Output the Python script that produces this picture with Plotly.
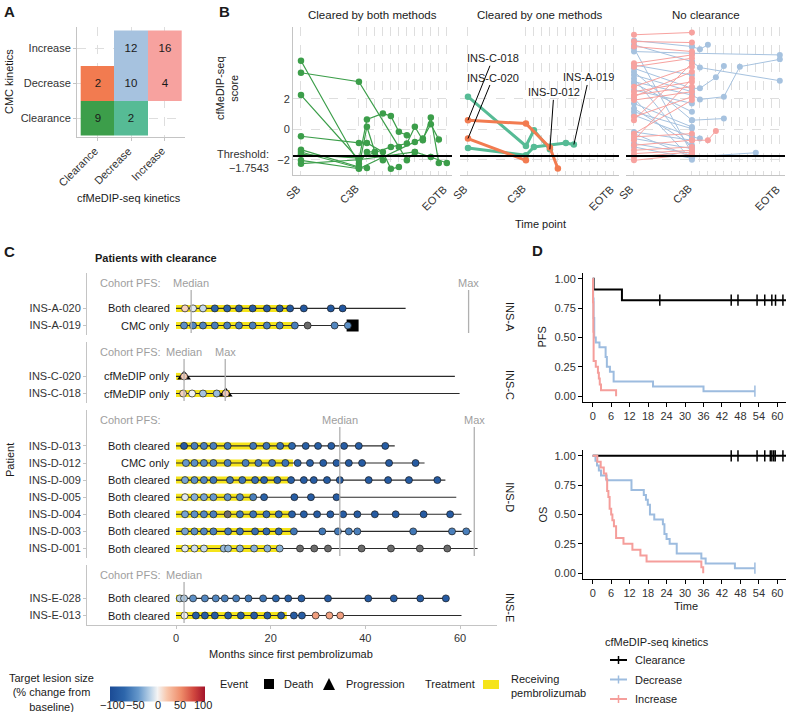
import plotly.graph_objects as go

W, H = 786, 712
FONT = "Liberation Sans, Arial, sans-serif"
TXT = "#1a1a1a"
TICK = "#333333"
GRID = "#dedede"
AXG = "#c4c4c4"
CGRAY = "#9e9e9e"


def fx(p):
    return p / W


def fy(p):
    return 1 - p / H


# ---------------- Panel A data ----------------
a_levels = ["Clearance", "Decrease", "Increase"]
a_counts = [[9, 2, None], [2, 10, 4], [None, 12, 16]]      # rows = CMC, cols = cfMeDIP-seq
a_group = [[0, 2, None], [1, 3, 4], [None, 3, 4]]
group_colors = ["#3c9e4a", "#f27b50", "#56bb95", "#a6c2df", "#f7a29f"]

# ---------------- Panel B data ----------------
visits = ["SB", "C3B", "C4B", "C5B", "C6B", "C7B", "C8B", "C9B", "C10B", "C11B", "C12B", "C13B", "EOTB"]
visit_labels = ["SB", "C3B", "", "", "", "", "", "", "", "", "", "", "EOTB"]
threshold = -1.7543
facet_titles = ["Cleared by both methods", "Cleared by one methods", "No clearance"]

both_idx = [[0, 1, 2, 3, 4], [0, 1, 6, 7, 8], [0, 1, 2, 4, 5, 6, 7], [0, 1, 2, 4, 5, 6],
            [0, 1, 2, 3], [0, 1, 2], [0, 1, 5, 7, 8, 9, 10, 11], [0, 1, 8, 9, 10, 11], [0, 1, 8, 10, 12]]
both_val = [[4.49, -2.26, -1.49, -1.49, -2.04], [3.70, 3.11, -1.16, -2.04, -1.49],
            [2.24, -2.0, 0.64, 1.03, 0.86, -0.17, -0.39], [-0.46, -0.90, -0.90, -1.49, -2.59, -2.48],
            [-1.34, -2.48, 0.16, -1.49], [-1.49, -2.54, -2.54],
            [-1.64, -1.9, -1.16, -0.94, 0.16, -0.72, 0.77, -2.21],
            [-2.04, -2.59, -0.83, -0.61, 0.33, -0.68], [-2.26, -2.0, -1.49, -1.82, -2.21]]

one_ids = ["INS-D-012", "INS-A-019", "INS-C-018", "INS-C-020"]
one_kind = ["CMC", "CMC", "cfMeDIP", "cfMeDIP"]
one_idx = [[0, 1, 2, 4], [0, 1, 2, 6, 7], [0, 1, 4, 5], [0, 1]]
one_val = [[2.13, -1.1, -0.07, -1.32], [-1.23, -1.71, -1.16, -0.9, -1.0],
           [0.59, 0.37, -1.2, -2.57], [-0.61, -2.04]]
one_label_at = [3, 4, 0, 0]          # which point the call-out label marks
one_label_off = [(4, -57), (15, -67), (25, -62), (25, -61)]

nc_pink_sb = [6.19, 5.75, 5.42, 4.32, 4.10, 2.79, 2.46, 2.24, 2.13, 1.91, 0.81, 0.59, -0.29, -0.50,
              -0.72, -1.05, -1.38, -1.60, -1.82, -2.04]
nc_pink_c3b = [6.34, 5.68, 5.09, 4.87, 4.65, 4.10, 3.11, 2.79, 3.77, 2.46, 2.13, 4.32, 1.91, -0.29,
               3.33, -0.72, -1.16, -1.38, -1.49, -1.64]
nc_blue_sb = [5.81, 5.53, 5.31, 5.09, 4.21, 3.99, 3.77, 3.55, 3.33, 3.11, 3.00, 2.57, 2.02, 1.69,
              1.36, 1.14, 0.92, -0.18, -0.29, -0.61, -0.94, -1.16]
nc_blue_c3b = [5.42, 4.43, -1.60, 4.98, 3.55, 2.68, 0.59, 2.46, -1.27, 2.24, 1.14, 1.69, -2.00, 0.15,
               -1.05, 0.04, -0.50, -0.72, -1.82, -1.27, -1.60, -1.91]
nc_blue_ext_idx = [[1, 2, 3], [1, 12], [1, 2, 12], [1, 2, 4, 5], [1, 2, 5, 7, 12], [1, 5], [1, 2], [1, 9]]
nc_blue_ext_val = [[5.42, 5.24, 5.53], [4.98, 4.87], [4.43, 4.04, 3.18], [2.68, 2.68, 3.40, 4.15],
                   [2.24, 1.95, 2.13, 4.10, 4.58], [0.59, 0.70], [-0.50, -0.61], [-1.82, -1.54]]
nc_pink_ext_idx = [[1, 3, 4]]
nc_pink_ext_val = [[-0.72, -0.72, -0.11]]

# ---------------- Panel C data ----------------
cohorts = ["INS-A", "INS-C", "INS-D", "INS-E"]
cohort_pfs_median = [3.2, 1.7, 34.6, 1.7]
cohort_pfs_max = [61.8, 10.4, 63.0, None]
c_ids = ["INS-A-020", "INS-A-019", "INS-C-020", "INS-C-018", "INS-D-013", "INS-D-012", "INS-D-009",
         "INS-D-005", "INS-D-004", "INS-D-003", "INS-D-001", "INS-E-028", "INS-E-013"]
c_cohort = ["INS-A", "INS-A", "INS-C", "INS-C", "INS-D", "INS-D", "INS-D", "INS-D", "INS-D", "INS-D",
            "INS-D", "INS-E", "INS-E"]
c_status = ["Both cleared", "CMC only", "cfMeDIP only", "cfMeDIP only", "Both cleared", "CMC only",
            "Both cleared", "Both cleared", "Both cleared", "Both cleared", "Both cleared",
            "Both cleared", "Both cleared"]
c_followup = [48.5, 37.3, 58.9, 59.9, 46.2, 52.5, 56.9, 59.2, 60.3, 62.4, 63.7, 57.4, 60.3]
c_treat_end = [23.6, 24.7, 1.0, 11.4, 24.1, 24.7, 23.7, 16.7, 23.9, 24.3, 22.3, 1.3, 23.4]
c_event = [None, "Death", "Progression", "Progression", None, None, None, None, None, None, None, None, None]
c_event_time = [None, 37.3, 1.7, 10.5, None, None, None, None, None, None, None, None, None]
c_scan_t = [
    [1.9, 3.6, 5.7, 8.2, 10.8, 13.3, 16.2, 19.2, 21.9, 24.1, 27.0, 32.7, 35.2],
    [1.7, 3.6, 5.7, 8.2, 10.8, 13.3, 16.2, 19.2, 21.9, 25.1, 27.8, 33.5, 36.3],
    [1.7],
    [1.5, 3.4, 5.7, 8.6, 10.5],
    [1.7, 3.9, 5.9, 7.9, 10.9, 16.3, 19.1, 22.0, 24.5, 27.4, 30.0, 32.8, 35.5, 38.6, 44.2],
    [2.1, 3.9, 5.9, 7.9, 10.9, 14.7, 17.4, 20.3, 23.1, 25.7, 28.3, 31.1, 33.9, 36.5, 39.3, 45.0, 50.6],
    [1.9, 3.9, 5.9, 7.9, 11.4, 14.0, 16.7, 18.6, 21.4, 24.3, 27.0, 29.1, 31.9, 34.6, 40.7, 44.8, 49.2, 55.2],
    [1.9, 3.9, 5.9, 7.9, 10.9, 13.5, 16.3, 18.6, 25.0, 28.5, 33.9],
    [1.9, 3.9, 5.9, 7.9, 10.9, 13.5, 16.3, 19.1, 21.7, 24.5, 27.0, 29.8, 32.6, 35.3, 38.3, 42.0, 46.4, 52.3, 57.9],
    [1.9, 3.9, 5.9, 7.9, 11.0, 13.5, 16.7, 19.1, 21.7, 24.9, 30.9, 34.2, 36.5, 38.3, 50.1, 58.3, 61.3],
    [1.9, 3.9, 5.9, 10.1, 11.0, 13.5, 16.5, 19.3, 21.9, 26.2, 29.2, 32.1, 39.2, 45.4, 51.5, 57.3],
    [0.8, 1.7, 3.6, 6.1, 8.4, 10.3, 12.7, 15.3, 18.4, 21.1, 23.7, 26.5, 32.1, 40.6, 46.0, 51.6, 57.0],
    [1.8, 4.2, 6.1, 8.2, 11.0, 13.7, 16.5, 19.3, 22.2, 24.9, 26.6, 29.5, 32.4, 34.7],
]
c_scan_chg = [
    [15, -5, -12, -72, -76, -80, -82, -84, -85, -86, -86, -86, -88],
    [-45, -50, -52, -55, -55, -55, -55, -55, -55, -55, None, -50, -45],
    [18],
    [15, 0, -22, -25, 18],
    [-82, -55, -55, -55, -60, -60, -62, -65, -70, -78, -78, -80, -80, -80, -80],
    [-40, -45, -48, -50, -55, -55, -58, -60, -62, -72, -78, -80, -82, -82, -82, -82, -82],
    [-35, -45, -50, -60, -60, -62, -65, -70, -75, -80, -82, -82, -82, -82, -82, -82, -82, -82],
    [-5, -30, -35, -40, -45, -50, -55, -75, -80, -82, -82],
    [-35, -45, -50, -55, None, -60, -62, -65, -68, -78, -80, -82, -82, -82, -82, -82, -82, -82, -82],
    [-35, -45, -50, -55, -60, -62, -65, -68, -68, -60, -60, -58, -55, -55, -60, -55, -55],
    [-5, -10, -12, -25, -28, -30, -30, -30, -30, None, None, None, None, None, None, None],
    [-15, -20, -45, -50, -50, -55, -55, -60, -62, -70, -78, -80, -82, -82, -82, -82, -82],
    [0, -80, -80, -82, -82, -82, -82, -82, -82, -82, -80, 40, 38, 40],
]
c_xticks = [0, 20, 40, 60]
lesion_ticks = [-100, -50, 0, 50, 100]

# ---------------- Panel D data ----------------
km_groups = ["Clearance", "Decrease", "Increase"]
km_colors = ["#000000", "#9dbcdf", "#f59e9b"]
pfs_t = [[0, 0.3, 9.5, 62.8],
         [0, 0.15, 0.3, 0.5, 1.0, 2.2, 4.2, 4.6, 5.6, 6.8, 19.6, 36.0, 52.7],
         [0, 0.1, 0.2, 0.3, 1.0, 1.7, 2.0, 2.3, 2.7, 7.6]]
pfs_s = [[1.0, 0.909, 0.818, 0.818],
         [1.0, 0.833, 0.667, 0.5, 0.458, 0.417, 0.333, 0.25, 0.208, 0.125, 0.083, 0.042, 0.042],
         [1.0, 0.8, 0.55, 0.3, 0.25, 0.2, 0.15, 0.1, 0.05, 0.0]]
pfs_cens = [[21.8, 45.0, 47.2, 53.4, 55.9, 58.2, 59.4, 61.8], [52.7], []]
os_t = [[0, 62.8],
        [0, 0.9, 1.4, 2.0, 2.7, 4.5, 12.6, 16.6, 17.3, 17.9, 18.6, 20.0, 22.8, 23.3, 24.0, 25.0, 27.3,
         35.3, 36.7, 46.2, 52.7],
        [0, 1.5, 2.6, 3.6, 4.4, 4.7, 5.1, 5.5, 6.0, 6.4, 6.9, 7.6, 10.0, 12.9, 15.5, 17.5, 35.3, 35.9]]
os_s = [[1.0, 1.0],
        [1, 0.958, 0.917, 0.875, 0.833, 0.792, 0.708, 0.667, 0.625, 0.583, 0.5, 0.458, 0.417, 0.333,
         0.292, 0.25, 0.167, 0.125, 0.083, 0.042, 0.042],
        [1, 0.95, 0.9, 0.85, 0.8, 0.7, 0.65, 0.55, 0.5, 0.45, 0.4, 0.3, 0.25, 0.2, 0.15, 0.1, 0.05, 0.0]]
os_cens = [[45.0, 47.2, 53.4, 55.9, 57.7, 58.2, 58.8, 59.3, 61.8], [52.7], []]
km_xticks = list(range(0, 61, 6))
km_yticks = [0, 0.25, 0.5, 0.75, 1.0]

lesion_scale = [[0.0, "#1b4b95"], [0.15, "#2d66ab"], [0.3, "#6698cb"], [0.42, "#b8d1e7"],
                [0.5, "#f4f4f4"], [0.6, "#f8c6ab"], [0.75, "#ee8b69"], [0.88, "#d1483f"], [1.0, "#a3142b"]]

fig = go.Figure()
annotations = []
shapes = []


def ann(text, x, y, size=11, color=TXT, xanchor="center", yanchor="middle", bold=False, angle=0, align="center"):
    annotations.append(dict(text=f"<b>{text}</b>" if bold else text, x=fx(x), y=fy(y), xref="paper",
                            yref="paper", showarrow=False, xanchor=xanchor, yanchor=yanchor,
                            textangle=angle, align=align, font=dict(size=size, color=color, family=FONT)))


def rot_label(text, x, xref, ypx):
    annotations.append(dict(text=text, x=x, y=fy(ypx), xref=xref, yref="paper", showarrow=False,
                            xanchor="right", yanchor="top", textangle=-45, xshift=5,
                            font=dict(size=11, color=TICK, family=FONT)))


# ================= Panel A =================
cs = []
for i, c in enumerate(group_colors):
    cs += [[i / 5, c], [(i + 1) / 5, c]]
fig.add_trace(go.Heatmap(
    x=a_levels, y=a_levels, z=a_group,
    text=[["" if v is None else str(v) for v in row] for row in a_counts],
    texttemplate="%{text}", textfont=dict(size=11.5, color=TXT, family=FONT),
    colorscale=cs, zmin=-0.5, zmax=4.5, showscale=False, hoverinfo="skip", xaxis="x", yaxis="y"))

axes = {}
axes["xaxis"] = dict(domain=[fx(77), fx(185)], range=[-0.61, 2.6], type="category", anchor="y",
                     showgrid=True, gridcolor=GRID, griddash="dash", showline=True, linecolor=AXG,
                     ticks="outside", ticklen=3, tickcolor=AXG, showticklabels=False, zeroline=False)
axes["yaxis"] = dict(domain=[fy(137), fy(27)], range=[-0.54, 2.6], type="category", anchor="x",
                     showgrid=True, gridcolor=GRID, griddash="dash", showline=True, linecolor=AXG,
                     ticks="outside", ticklen=3, tickcolor=AXG, zeroline=False,
                     tickfont=dict(size=11, color=TICK))
for i, lv in enumerate(a_levels):
    rot_label(lv, i, "x", 142)
ann("A", 9, 11, size=15, bold=True)
ann("CMC kinetics", 9, 82, angle=-90)
ann("cfMeDIP-seq kinetics", 129, 198)

# ================= Panel B =================
visit_x = [0.0] + [7.25 + k for k in range(len(visits) - 1)]
b_dom = [(293, 452), (460, 619), (626, 785)]
green, orange, teal = group_colors[0], group_colors[1], group_colors[2]
blue_l, pink_l = group_colors[3], group_colors[4]


def bx(idx):
    return [visit_x[i] for i in idx]


for idx, vals in zip(both_idx, both_val):
    fig.add_trace(go.Scatter(x=bx(idx), y=vals, mode="lines+markers", xaxis="x2", yaxis="y2",
                             line=dict(color=green, width=1.2), marker=dict(size=6.5, color=green),
                             hoverinfo="skip", showlegend=False))

for kind in ["CMC", "cfMeDIP"]:
    for pid, k, idx, vals in zip(one_ids, one_kind, one_idx, one_val):
        if k != kind:
            continue
        col = teal if k == "CMC" else orange
        fig.add_trace(go.Scatter(x=bx(idx), y=vals, mode="lines+markers", xaxis="x3", yaxis="y3",
                                 line=dict(color=col, width=3), marker=dict(size=6.5, color=col),
                                 hoverinfo="skip", showlegend=False))

for s, c in zip(nc_blue_sb, nc_blue_c3b):
    fig.add_trace(go.Scatter(x=bx([0, 1]), y=[s, c], mode="lines+markers", xaxis="x4", yaxis="y4",
                             line=dict(color=blue_l, width=1), marker=dict(size=6, color=blue_l),
                             hoverinfo="skip", showlegend=False))
for idx, vals in zip(nc_blue_ext_idx, nc_blue_ext_val):
    fig.add_trace(go.Scatter(x=bx(idx), y=vals, mode="lines+markers", xaxis="x4", yaxis="y4",
                             line=dict(color=blue_l, width=1), marker=dict(size=6, color=blue_l),
                             hoverinfo="skip", showlegend=False))
for s, c in zip(nc_pink_sb, nc_pink_c3b):
    fig.add_trace(go.Scatter(x=bx([0, 1]), y=[s, c], mode="lines+markers", xaxis="x4", yaxis="y4",
                             line=dict(color=pink_l, width=1), marker=dict(size=6, color=pink_l),
                             hoverinfo="skip", showlegend=False))
for idx, vals in zip(nc_pink_ext_idx, nc_pink_ext_val):
    fig.add_trace(go.Scatter(x=bx(idx), y=vals, mode="lines+markers", xaxis="x4", yaxis="y4",
                             line=dict(color=pink_l, width=1), marker=dict(size=6, color=pink_l),
                             hoverinfo="skip", showlegend=False))

for i, (x0, x1) in enumerate(b_dom):
    n = i + 2
    axes[f"xaxis{n}"] = dict(domain=[fx(x0), fx(x1)], range=[-1, 18.9], anchor=f"y{n}",
                             tickvals=visit_x, showticklabels=False,
                             showgrid=True, gridcolor=GRID, griddash="dash", showline=True,
                             linecolor=AXG, zeroline=False, ticks="")
    axes[f"yaxis{n}"] = dict(domain=[fy(175), fy(27)], range=[-3.0, 6.7], anchor=f"x{n}",
                             tickvals=[-2, 0, 2], ticktext=["\u22122", "0", "2"],
                             showgrid=True, gridcolor=GRID, griddash="dash", zeroline=False,
                             showline=(i == 0), linecolor=AXG, showticklabels=(i == 0),
                             ticks="", tickfont=dict(size=11, color=TICK))
    shapes.append(dict(type="line", xref=f"x{n} domain", x0=0, x1=1, yref=f"y{n}", y0=threshold,
                       y1=threshold, line=dict(color="black", width=2)))
    ann(facet_titles[i], (x0 + x1) / 2, 15, size=11.5)
    for vx, vl in zip(visit_x, visit_labels):
        if vl:
            rot_label(vl, vx, f"x{n}", 180)

for pid, idx, vals, li, off in zip(one_ids, one_idx, one_val, one_label_at, one_label_off):
    annotations.append(dict(text=pid, x=visit_x[idx[li]], y=vals[li], xref="x3", yref="y3",
                            showarrow=True, arrowhead=0, arrowwidth=1, arrowcolor="black",
                            ax=off[0], ay=off[1], standoff=0,
                            font=dict(size=11, color=TXT, family=FONT)))

ann("B", 224, 11, size=15, bold=True)
ann("cfMeDIP-seq<br>score", 227, 88, angle=-90)
ann("Threshold:<br>\u22121.7543", 271, 161, xanchor="right", align="right", color=TICK)
ann("Time point", 540, 224)

# ================= Panel C =================
facet_px = {"INS-A": (273, 335), "INS-C": (342, 403), "INS-D": (410, 558), "INS-E": (565, 625)}
row_h = 17.1
yellow = "#f5e41a"
for ci, coh in enumerate(cohorts):
    n = 5 + ci
    top, bot = facet_px[coh]
    members = [j for j, c in enumerate(c_cohort) if c == coh]
    nrow = len(members)
    rows = {j: nrow - 1 - r for r, j in enumerate(members)}
    for j in members:
        y = rows[j]
        fig.add_trace(go.Scatter(x=[0, c_treat_end[j]], y=[y, y], mode="lines", xaxis=f"x{n}",
                                 yaxis=f"y{n}", line=dict(color=yellow, width=7), hoverinfo="skip",
                                 showlegend=False))
        fig.add_trace(go.Scatter(x=[0, c_followup[j]], y=[y, y], mode="lines", xaxis=f"x{n}",
                                 yaxis=f"y{n}", line=dict(color="#2b2b2b", width=1.1), hoverinfo="skip",
                                 showlegend=False))
        if c_event[j] is not None:
            sym = "square" if c_event[j] == "Death" else "triangle-up"
            fig.add_trace(go.Scatter(x=[c_event_time[j]], y=[y], mode="markers", xaxis=f"x{n}",
                                     yaxis=f"y{n}", marker=dict(symbol=sym, size=12, color="black"),
                                     hoverinfo="skip", showlegend=False))
        tt = [t for t, v in zip(c_scan_t[j], c_scan_chg[j]) if v is not None]
        vv = [v for v in c_scan_chg[j] if v is not None]
        tn = [t for t, v in zip(c_scan_t[j], c_scan_chg[j]) if v is None]
        if tn:
            fig.add_trace(go.Scatter(x=tn, y=[y] * len(tn), mode="markers", xaxis=f"x{n}", yaxis=f"y{n}",
                                     marker=dict(size=7, color="#6b6b6b",
                                                 line=dict(color="#1a1a1a", width=0.7)),
                                     hoverinfo="skip", showlegend=False))
        fig.add_trace(go.Scatter(x=tt, y=[y] * len(tt), mode="markers", xaxis=f"x{n}", yaxis=f"y{n}",
                                 marker=dict(size=7, color=vv, coloraxis="coloraxis",
                                             line=dict(color="#1a1a1a", width=0.7)),
                                 hoverinfo="skip", showlegend=False))
        annotations.append(dict(text=c_status[j], x=-0.9, y=y, xref=f"x{n}", yref=f"y{n}",
                                showarrow=False, xanchor="right", yanchor="middle",
                                font=dict(size=11, color=TXT, family=FONT)))
    lo = -9.5 / row_h
    hi = (bot - top - 9.5) / row_h
    last = (ci == len(cohorts) - 1)
    axes[f"xaxis{n}"] = dict(domain=[fx(87), fx(497)], range=[-18.8, 67.8], anchor=f"y{n}",
                             showgrid=False, zeroline=False, showline=last, linecolor=AXG,
                             showticklabels=last, ticks="outside" if last else "", ticklen=3,
                             tickcolor=AXG, tickvals=c_xticks, tickfont=dict(size=11, color=TICK))
    axes[f"yaxis{n}"] = dict(domain=[fy(bot), fy(top)], range=[lo, hi], anchor=f"x{n}",
                             showgrid=False, zeroline=False, showline=True, linecolor=AXG,
                             ticks="outside", ticklen=3, tickcolor=AXG,
                             tickvals=[rows[j] for j in members], ticktext=[c_ids[j] for j in members],
                             tickfont=dict(size=11, color=TICK))
    ann("Cohort PFS:", 98, top + 9.5, color=CGRAY, xanchor="left")
    for val, lab in [(cohort_pfs_median[ci], "Median"), (cohort_pfs_max[ci], "Max")]:
        if val is None:
            continue
        shapes.append(dict(type="line", xref=f"x{n}", x0=val, x1=val, yref="paper",
                           y0=fy(bot - 2), y1=fy(top + 17), line=dict(color="#b0b0b0", width=1.3)))
        annotations.append(dict(text=lab, x=val, y=fy(top + 9.5), xref=f"x{n}", yref="paper",
                                showarrow=False, xanchor="center", yanchor="middle",
                                font=dict(size=11, color=CGRAY, family=FONT)))
    ycen = bot - 9.5 - (nrow - 1) * row_h / 2
    ann(coh, 510, ycen, angle=90)

ann("C", 9, 252, size=15, bold=True)
ann("<b>Patients with clearance</b>", 156, 258, size=11)
ann("Patient", 10, 460, angle=-90)
ann("Months since first pembrolizumab", 291, 654)

# ================= Panel D =================
def level_at(t, ts, ss):
    lv = ss[0]
    for a, b in zip(ts, ss):
        if a <= t:
            lv = b
    return lv


for k in range(3):
    for (ts, ss, cens, n) in [(pfs_t[k], pfs_s[k], pfs_cens[k], 9), (os_t[k], os_s[k], os_cens[k], 10)]:
        fig.add_trace(go.Scatter(x=ts, y=ss, mode="lines", line=dict(color=km_colors[k], width=2, shape="hv"),
                                 xaxis=f"x{n}", yaxis=f"y{n}", hoverinfo="skip", showlegend=False))
        if cens:
            fig.add_trace(go.Scatter(x=cens, y=[level_at(c, ts, ss) for c in cens], mode="markers",
                                     marker=dict(symbol="line-ns", size=8,
                                                 line=dict(color=km_colors[k], width=1.5)),
                                     xaxis=f"x{n}", yaxis=f"y{n}", hoverinfo="skip", showlegend=False))

for n, (top, bot), lab in [(9, (273, 402), "PFS"), (10, (450, 579), "OS")]:
    axes[f"xaxis{n}"] = dict(domain=[fx(583), fx(786)], range=[-3.15, 62.8], anchor=f"y{n}",
                             showgrid=False, zeroline=False, showline=True, linecolor="black",
                             linewidth=1, ticks="outside", ticklen=4, tickcolor="black",
                             ticklabeloverflow="allow",
                             tickvals=km_xticks, tickfont=dict(size=11, color=TICK))
    axes[f"yaxis{n}"] = dict(domain=[fy(bot), fy(top)], range=[-0.05, 1.05], anchor=f"x{n}",
                             showgrid=False, zeroline=False, showline=True, linecolor="black",
                             linewidth=1, ticks="outside", ticklen=4, tickcolor="black",
                             tickvals=km_yticks, ticktext=["0.00", "0.25", "0.50", "0.75", "1.00"],
                             tickfont=dict(size=11, color=TICK))
    ann(lab, 542, (top + bot) / 2, angle=-90)

ann("D", 537, 251, size=15, bold=True)
ann("Time", 686, 606)

# KM legend
ann("cfMeDIP-seq kinetics", 603, 642, xanchor="left")
for k, g in enumerate(km_groups):
    yy = 660 + k * 19.5
    shapes.append(dict(type="line", xref="paper", yref="paper", x0=fx(610), x1=fx(627), y0=fy(yy), y1=fy(yy),
                       line=dict(color=km_colors[k], width=2)))
    shapes.append(dict(type="line", xref="paper", yref="paper", x0=fx(618.5), x1=fx(618.5), y0=fy(yy - 4),
                       y1=fy(yy + 4), line=dict(color=km_colors[k], width=1.5)))
    ann(g, 633, yy, xanchor="left")

# ================= Bottom legend =================
ann("Target lesion size<br>(% change from<br>baseline)", 51, 692)
for v in lesion_ticks:
    ann(str(v).replace("-", "\u2212"), 157.5 + v * 0.45, 705)
ann("Event", 218, 684, xanchor="left")
shapes.append(dict(type="rect", xref="paper", yref="paper", x0=fx(264), x1=fx(274), y0=fy(689), y1=fy(679),
                   fillcolor="black", line=dict(width=0)))
ann("Death", 282, 684, xanchor="left")
shapes.append(dict(type="path", xref="paper", yref="paper",
                   path=f"M {fx(323)},{fy(690)} L {fx(335)},{fy(690)} L {fx(329)},{fy(678)} Z",
                   fillcolor="black", line=dict(width=0)))
ann("Progression", 344, 684, xanchor="left")
ann("Treatment", 423, 684, xanchor="left")
shapes.append(dict(type="rect", xref="paper", yref="paper", x0=fx(483), x1=fx(499), y0=fy(689), y1=fy(680),
                   fillcolor=yellow, line=dict(width=0)))
ann("Receiving<br>pembrolizumab", 509, 686, xanchor="left", align="left")

fig.update_layout(
    width=W, height=H, autosize=False, margin=dict(l=0, r=0, t=0, b=0, pad=0, autoexpand=False),
    paper_bgcolor="white", plot_bgcolor="white", showlegend=False,
    font=dict(family=FONT, size=11, color=TXT),
    annotations=annotations, shapes=shapes,
    coloraxis=dict(cmin=-100, cmax=100, colorscale=lesion_scale,
                   colorbar=dict(orientation="h", x=fx(110), xanchor="left", y=fy(694), yanchor="middle",
                                 len=95, lenmode="pixels", thickness=15, thicknessmode="pixels",
                                 xpad=0, ypad=0, outlinewidth=0, ticks="", showticklabels=False,
                                 title=dict(text=""))),
    **axes,
)

fig.write_html("out.html", config={"displayModeBar": False, "responsive": False},
               post_script="document.body.style.margin='0px';document.body.style.overflow='hidden';")
